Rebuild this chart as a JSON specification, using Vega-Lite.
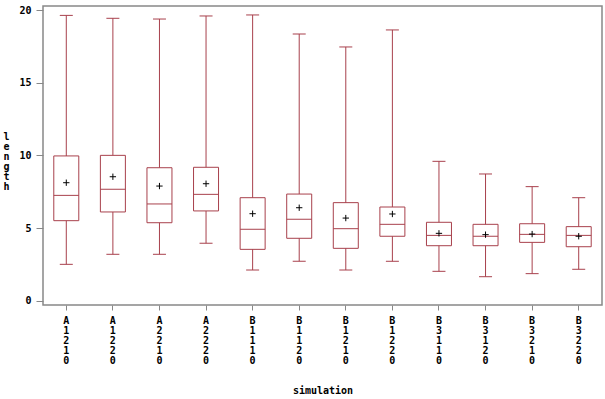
{
  "$schema": "https://vega.github.io/schema/vega-lite/v6.json",
  "width": 559,
  "height": 299,
  "autosize": {"type": "none"},
  "padding": {"left": 43, "top": 6, "right": 3, "bottom": 94},
  "background": "white",
  "config": {
    "view": {"stroke": "#888888", "strokeWidth": 1.5},
    "axis": {"labelFont": "DejaVu Sans Mono", "labelFontWeight": "bold", "titleFont": "DejaVu Sans Mono", "titleFontWeight": "bold", "labelColor": "#000", "titleColor": "#000", "domainColor": "#888888", "tickColor": "#888888", "grid": false}
  },
  "data": {
    "values": [
      {"sim": "A1210", "min": 2.52, "q1": 5.52, "median": 7.26, "mean": 8.13, "q3": 9.97, "max": 19.63},
      {"sim": "A1220", "min": 3.21, "q1": 6.12, "median": 7.68, "mean": 8.54, "q3": 10.01, "max": 19.43},
      {"sim": "A2210", "min": 3.21, "q1": 5.38, "median": 6.67, "mean": 7.90, "q3": 9.16, "max": 19.38},
      {"sim": "A2220", "min": 3.97, "q1": 6.19, "median": 7.33, "mean": 8.06, "q3": 9.19, "max": 19.59},
      {"sim": "B1110", "min": 2.13, "q1": 3.55, "median": 4.93, "mean": 6.00, "q3": 7.10, "max": 19.66},
      {"sim": "B1120", "min": 2.73, "q1": 4.31, "median": 5.61, "mean": 6.41, "q3": 7.35, "max": 18.35},
      {"sim": "B1210", "min": 2.13, "q1": 3.62, "median": 4.97, "mean": 5.70, "q3": 6.76, "max": 17.46},
      {"sim": "B1220", "min": 2.73, "q1": 4.45, "median": 5.27, "mean": 5.98, "q3": 6.46, "max": 18.63},
      {"sim": "B3110", "min": 2.04, "q1": 3.80, "median": 4.51, "mean": 4.65, "q3": 5.41, "max": 9.60},
      {"sim": "B3120", "min": 1.67, "q1": 3.80, "median": 4.45, "mean": 4.56, "q3": 5.27, "max": 8.73},
      {"sim": "B3210", "min": 1.88, "q1": 4.03, "median": 4.58, "mean": 4.60, "q3": 5.31, "max": 7.86},
      {"sim": "B3220", "min": 2.18, "q1": 3.73, "median": 4.51, "mean": 4.45, "q3": 5.11, "max": 7.10}
    ]
  },
  "encoding": {
    "x": {
      "field": "sim", "type": "nominal", "sort": null,
      "scale": {"paddingInner": 0, "paddingOuter": 0},
      "axis": {
        "title": "simulation", "titleFontSize": 10, "titleY": 85, "titleBaseline": "middle",
        "labelAngle": 0, "labelFontSize": 10, "labelLineHeight": 10, "labelBaseline": "top",
        "labelExpr": "split(datum.label, '')", "tickSize": 5, "labelPadding": 5, "domain": false
      }
    }
  },
  "layer": [
    {
      "mark": {"type": "rule", "color": "#a8404c", "strokeWidth": 1},
      "encoding": {
        "y": {
          "field": "min", "type": "quantitative",
          "scale": {"domain": [-0.275, 20.275], "nice": false, "zero": false},
          "axis": {
            "title": ["l", "e", "n", "g", "t", "h"], "titleAngle": 0, "titleFontSize": 10, "titleLineHeight": 10,
            "titleX": -37, "titleY": 125, "titleBaseline": "top", "titleAlign": "center",
            "values": [0, 5, 10, 15, 20], "labelFontSize": 10, "tickSize": 7, "labelPadding": 5, "domain": false
          }
        },
        "y2": {"field": "max"}
      }
    },
    {
      "mark": {"type": "tick", "color": "#a8404c", "size": 13, "thickness": 1, "opacity": 1},
      "encoding": {"y": {"field": "min", "type": "quantitative"}}
    },
    {
      "mark": {"type": "tick", "color": "#a8404c", "size": 13, "thickness": 1, "opacity": 1},
      "encoding": {"y": {"field": "max", "type": "quantitative"}}
    },
    {
      "mark": {"type": "bar", "fill": "white", "stroke": "#a8404c", "strokeWidth": 1, "size": 25},
      "encoding": {"y": {"field": "q1", "type": "quantitative"}, "y2": {"field": "q3"}}
    },
    {
      "mark": {"type": "tick", "color": "#a8404c", "size": 25, "thickness": 1, "opacity": 1},
      "encoding": {"y": {"field": "median", "type": "quantitative"}}
    },
    {
      "mark": {"type": "point", "shape": "M -1 0 L 1 0 M 0 -1 L 0 1", "filled": false, "stroke": "black", "strokeWidth": 1, "size": 40, "opacity": 1},
      "encoding": {"y": {"field": "mean", "type": "quantitative"}}
    }
  ]
}
